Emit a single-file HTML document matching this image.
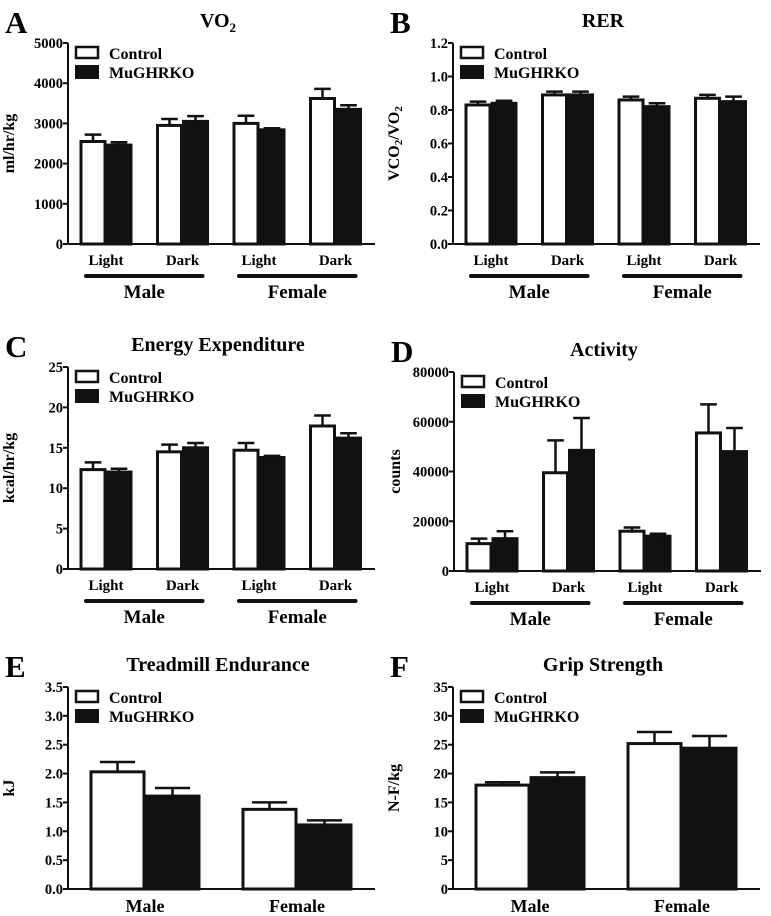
<!DOCTYPE html>
<html><head><meta charset="utf-8"><style>
body{margin:0;background:#fff;}
svg{display:block;font-family:"Liberation Serif",serif;font-weight:bold;}
</style></head><body>
<svg id="fig" width="771" height="916" viewBox="0 0 771 916" xmlns="http://www.w3.org/2000/svg"></svg>
<script>
// Panel A: VO2
const aCtrl=[2550,2950,3000,3620], aCtrlErr=[2720,3110,3190,3860];
const aKo=[2460,3050,2840,3350], aKoErr=[2530,3180,2880,3450];
const aTicks=["0","1000","2000","3000","4000","5000"];
// Panel B: RER
const bCtrl=[0.83,0.89,0.86,0.87], bCtrlErr=[0.85,0.91,0.88,0.89];
const bKo=[0.84,0.89,0.82,0.85], bKoErr=[0.855,0.91,0.84,0.88];
const bTicks=["0.0","0.2","0.4","0.6","0.8","1.0","1.2"];
// Panel C: Energy expenditure
const cCtrl=[12.3,14.5,14.7,17.7], cCtrlErr=[13.2,15.4,15.6,19];
const cKo=[12,15,13.8,16.2], cKoErr=[12.4,15.6,14,16.8];
const cTicks=["0","5","10","15","20","25"];
// Panel D: Activity
const dCtrl=[11000,39500,16000,55500], dCtrlErr=[13000,52500,17500,67000];
const dKo=[13000,48500,14000,48000], dKoErr=[16000,61500,15000,57500];
const dTicks=["0","20000","40000","60000","80000"];
// Panel E: Treadmill
const eCtrl=[2.03,1.38], eCtrlErr=[2.2,1.5];
const eKo=[1.61,1.11], eKoErr=[1.75,1.19];
const eTicks=["0.0","0.5","1.0","1.5","2.0","2.5","3.0","3.5"];
// Panel F: Grip
const fCtrl=[18,25.2], fCtrlErr=[18.5,27.2];
const fKo=[19.3,24.4], fKoErr=[20.2,26.5];
const fTicks=["0","5","10","15","20","25","30","35"];
const fourCats=["Light","Dark","Light","Dark"];
const twoCats=["Male","Female"];

const NS="http://www.w3.org/2000/svg";
const svg=document.getElementById('fig');
function mk(tag,attrs,parent,text){const e=document.createElementNS(NS,tag);for(const k in attrs)e.setAttribute(k,attrs[k]);if(text!==undefined)e.textContent=text;(parent||svg).appendChild(e);return e;}

function panel(p){
  const g=mk('g',{});
  
  
  const x0=p.ox, y0=p.y0, yt=p.yt, xe=p.ox+307;
  const max=parseFloat(p.ticks[p.ticks.length-1]);
  const ys=v=>y0-(v/max)*(y0-yt);
  const L=mk('text',{x:p.ox-63,y:yt-10,'font-size':31},g,p.id);
  
  const T=mk('text',{x:p.ox+150,y:yt-16,'font-size':20,'text-anchor':'middle'},g);
  
  T.innerHTML=p.title;
  const yl=mk('text',{transform:`translate(${p.ox-54},${(y0+yt)/2}) rotate(-90)`,'font-size':16,'text-anchor':'middle'},g);
  
  yl.innerHTML=p.ylab;
  const ax=mk('path',{d:`M${x0} ${yt}V${y0}H${xe}`,stroke:'#111','stroke-width':2,fill:'none'},g);
  
  p.ticks.forEach(t=>{const v=parseFloat(t),y=ys(v);
    mk('line',{x1:x0-5,x2:x0,y1:y,y2:y,stroke:'#111','stroke-width':2},g);
    const tl=mk('text',{x:x0-5,y:y+5,'font-size':14.5,'text-anchor':'end'},g,t);
    
  });
  const n=p.ctrl.length;
  const bw=n===4?26:55;
  const cx=i=> n===4 ? p.ox+38+76.5*i : p.ox+77+152*i;
  function bar(v,e,i,dark){
    const bx=dark?cx(i):cx(i)-bw, y=ys(v), ey=ys(e), mid=bx+bw/2;
    const r=mk('rect',{x:bx+1,y:y,width:bw-2,height:y0-y,fill:dark?'#111':'#fff',stroke:'#111','stroke-width':3},g);
    
    
    const eb=mk('path',{d:`M${mid} ${y}V${ey}M${mid-bw*0.32} ${ey}H${mid+bw*0.32}`,stroke:'#111','stroke-width':2.5,fill:'none'},g);
    
  }
  for(let i=0;i<n;i++){bar(p.ctrl[i],p.ctrlE[i],i,false);bar(p.ko[i],p.koE[i],i,true);}
  if(n===4){
    fourCats.forEach((c,i)=>{const t=mk('text',{x:cx(i),y:y0+21,'font-size':15,'text-anchor':'middle'},g,c);
      });
    twoCats.forEach((c,j)=>{const a=cx(2*j)-20,b=cx(2*j+1)+20;
      const ln=mk('line',{x1:a,x2:b,y1:y0+32,y2:y0+32,stroke:'#111','stroke-width':4,'stroke-linecap':'round'},g);
      
      const t=mk('text',{x:(a+b)/2,y:y0+54,'font-size':19,'text-anchor':'middle'},g,c);
      });
  } else {
    twoCats.forEach((c,i)=>{const t=mk('text',{x:cx(i),y:y0+23,'font-size':18,'text-anchor':'middle'},g,c);
      });
  }
  const lg=mk('g',{},g);
  
  const lx=x0+8, ly=yt+4;
  mk('rect',{x:lx,y:ly,width:22,height:11,fill:'#fff',stroke:'#111','stroke-width':2.5},lg);
  mk('text',{x:lx+33,y:ly+12,'font-size':16},lg,'Control');
  mk('rect',{x:lx-1,y:ly+18,width:24,height:14,fill:'#111'},lg);
  mk('text',{x:lx+33,y:ly+31,'font-size':16},lg,'MuGHRKO');
}
panel({id:'A',ox:68,y0:244,yt:43,title:'VO<tspan font-size="13" dy="5">2</tspan>',ylab:'ml/hr/kg',ticks:aTicks,ctrl:aCtrl,ctrlE:aCtrlErr,ko:aKo,koE:aKoErr});
panel({id:'B',ox:453,y0:244,yt:43,title:'RER',ylab:'VCO<tspan font-size="11" dy="3">2</tspan><tspan dy="-3">/VO</tspan><tspan font-size="11" dy="3">2</tspan>',ticks:bTicks,ctrl:bCtrl,ctrlE:bCtrlErr,ko:bKo,koE:bKoErr});
panel({id:'C',ox:68,y0:569,yt:367,title:'Energy Expenditure',ylab:'kcal/hr/kg',ticks:cTicks,ctrl:cCtrl,ctrlE:cCtrlErr,ko:cKo,koE:cKoErr});
panel({id:'D',ox:454,y0:571,yt:372,title:'Activity',ylab:'counts',ticks:dTicks,ctrl:dCtrl,ctrlE:dCtrlErr,ko:dKo,koE:dKoErr});
panel({id:'E',ox:68,y0:889,yt:687,title:'Treadmill Endurance',ylab:'kJ',ticks:eTicks,ctrl:eCtrl,ctrlE:eCtrlErr,ko:eKo,koE:eKoErr});
panel({id:'F',ox:453,y0:889,yt:687,title:'Grip Strength',ylab:'N-F/kg',ticks:fTicks,ctrl:fCtrl,ctrlE:fCtrlErr,ko:fKo,koE:fKoErr});
</script>
</body></html>
